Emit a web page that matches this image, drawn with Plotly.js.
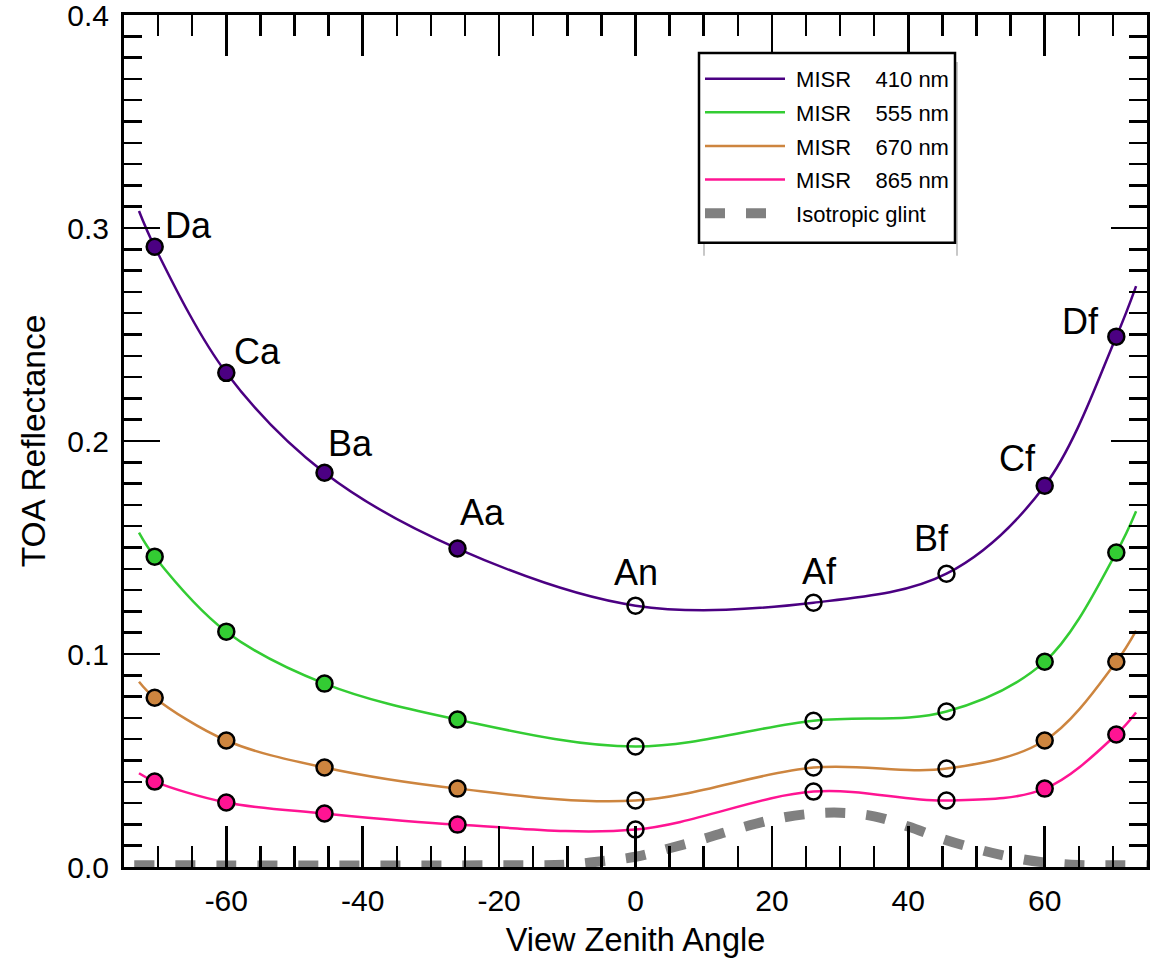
<!DOCTYPE html>
<html>
<head>
<meta charset="utf-8">
<script src="https://cdn.plot.ly/plotly-3.0.1.min.js"></script>
<style>
  html, body { margin: 0; padding: 0; background: #fff; }
  #chart { width: 1160px; height: 958px; }
</style>
</head>
<body>
<div id="chart"></div>
<script>
// ---- data ----
const cameras = ['Da', 'Ca', 'Ba', 'Aa', 'An', 'Af', 'Bf', 'Cf', 'Df'];
const viewAngles = [-70.5, -60, -45.6, -26.1, 0, 26.1, 45.6, 60, 70.5];
const filledMarker = [true, true, true, true, false, false, false, true, true];

const refl410 = [0.2912, 0.2320, 0.1851, 0.1495, 0.1227, 0.1241, 0.1377, 0.1790, 0.2490];
const refl555 = [0.1457, 0.1105, 0.0861, 0.0692, 0.0566, 0.0687, 0.0730, 0.0964, 0.1476];
const refl670 = [0.0795, 0.0594, 0.0467, 0.0368, 0.0312, 0.0467, 0.0462, 0.0594, 0.0964];
const refl865 = [0.0401, 0.0303, 0.0251, 0.0199, 0.0176, 0.0354, 0.0312, 0.0368, 0.0622];

// fitted-curve end points
const curveStartAngle = -72.8;
const curveEndAngle = 73.4;
const curveStart = { b410: 0.308, b555: 0.157, b670: 0.087, b865: 0.044 };
const curveEnd   = { b410: 0.2727, b555: 0.167, b670: 0.111, b865: 0.0725 };

const glintAngle = [-73.5, -20, -10, -5, 0, 5, 10, 15, 20, 25, 30, 35, 40, 45, 50, 55, 60, 65, 70, 75];
const glintRefl  = [0.0008, 0.0008, 0.0011, 0.0027, 0.0048, 0.0088, 0.0132, 0.0180, 0.0222, 0.0248, 0.0255, 0.0238, 0.0190, 0.0132, 0.0085, 0.0047, 0.0021, 0.0009, 0.0008, 0.0008];

const bandNames = ['MISR\u00a0\u00a0\u00a0\u00a0410 nm', 'MISR\u00a0\u00a0\u00a0\u00a0555 nm', 'MISR\u00a0\u00a0\u00a0\u00a0670 nm', 'MISR\u00a0\u00a0\u00a0\u00a0865 nm'];
const glintName = 'Isotropic glint';

const xTickVals = [-60, -40, -20, 0, 20, 40, 60];
const xTickText = ['-60', '-40', '-20', '0', '20', '40', '60'];
const yTickVals = [0, 0.1, 0.2, 0.3, 0.4];
const yTickText = ['0.0', '0.1', '0.2', '0.3', '0.4'];

// ---- styling ----
const FONT = 'Liberation Sans, Arial, Helvetica, sans-serif';
const bands = [
  { key: 'b410', y: refl410, color: '#4B0082', name: bandNames[0], xa: 'x3', ya: 'y3' },
  { key: 'b555', y: refl555, color: '#33CC33', name: bandNames[1], xa: 'x',  ya: 'y'  },
  { key: 'b670', y: refl670, color: '#CD853F', name: bandNames[2], xa: 'x',  ya: 'y'  },
  { key: 'b865', y: refl865, color: '#FF1493', name: bandNames[3], xa: 'x',  ya: 'y'  }
];

const traces = [];
bands.forEach((b, i) => {
  traces.push({
    x: [curveStartAngle].concat(viewAngles, [curveEndAngle]),
    y: [curveStart[b.key]].concat(b.y, [curveEnd[b.key]]),
    xaxis: b.xa, yaxis: b.ya,
    type: 'scatter', mode: 'lines', name: '\u00a0' + b.name, legendgroup: 'g' + i,
    line: { color: b.color, width: 2.5, shape: 'spline', smoothing: 1 }
  });
});
// glint on the overlay subplot (same ranges)
traces.push({
  x: glintAngle, y: glintRefl, type: 'scatter', mode: 'lines',
  xaxis: 'x2', yaxis: 'y2',
  name: '\u00a0' + glintName, legendgroup: 'g4',
  line: { color: '#808080', width: 10, dash: '20px,21px', shape: 'spline', smoothing: 1 }
});
bands.forEach((b) => {
  traces.push({
    x: viewAngles, y: b.y, type: 'scatter', mode: 'markers', showlegend: false,
    xaxis: b.xa, yaxis: b.ya,
    marker: {
      size: 16, symbol: 'circle',
      color: filledMarker.map(f => f ? b.color : 'rgba(0,0,0,0)'),
      line: { color: '#000', width: 2.5 }
    },
    cliponaxis: false
  });
});

// camera labels on the 410 nm curve
const labelOffsets = [
  { xa: 'left',   xs: 8,   ys: 21 },
  { xa: 'left',   xs: 6,   ys: 21 },
  { xa: 'left',   xs: 1,   ys: 29 },
  { xa: 'left',   xs: 0,   ys: 36 },
  { xa: 'center', xs: 0,   ys: 33 },
  { xa: 'center', xs: 6,   ys: 31 },
  { xa: 'center', xs: -15, ys: 35 },
  { xa: 'center', xs: -27, ys: 27 },
  { xa: 'center', xs: -36, ys: 15 }
];
const annotations = cameras.map((c, i) => ({
  x: viewAngles[i], y: refl410[i], xref: 'x', yref: 'y',
  text: c, showarrow: false,
  xanchor: labelOffsets[i].xa, yanchor: 'middle',
  xshift: labelOffsets[i].xs, yshift: labelOffsets[i].ys,
  font: { family: FONT, size: 36, color: '#000' }
}));

// legend box + shadow lines (pixel positions converted to paper coords)
const L = 124, T = 15, PW = 1023, PH = 852.5;
const px = v => (v - L) / PW;
const py = v => (T + PH - v) / PH;
const shapes = [
  { type: 'line', xref: 'paper', yref: 'paper', x0: px(957), x1: px(957), y0: py(62), y1: py(256),
    line: { color: '#c8c8c8', width: 2 }, layer: 'above' },
  { type: 'line', xref: 'paper', yref: 'paper', x0: px(704), x1: px(704), y0: py(243), y1: py(256),
    line: { color: '#c8c8c8', width: 2 }, layer: 'above' },
  { type: 'rect', xref: 'paper', yref: 'paper', x0: px(699), x1: px(955), y0: py(243), y1: py(53),
    fillcolor: '#fff', line: { color: '#000', width: 2.5 }, layer: 'above' }
];

// main axes: frame, labels, titles
const mainX = {
  range: [-75, 75], showgrid: false, zeroline: false,
  showline: true, linecolor: '#000', linewidth: 3, mirror: true,
  ticks: '', tickmode: 'array', tickvals: xTickVals, ticktext: xTickText,
  ticklabelstandoff: 5, ticklabeloverflow: 'allow',
  tickfont: { family: FONT, size: 30, color: '#000' },
  title: { text: 'View Zenith Angle', font: { family: FONT, size: 32.5, color: '#000' }, standoff: 14 }
};
const mainY = {
  range: [0, 0.4], showgrid: false, zeroline: false,
  showline: true, linecolor: '#000', linewidth: 3, mirror: true,
  ticks: '', tickmode: 'array', tickvals: yTickVals, ticktext: yTickText,
  ticklabelstandoff: 6, ticklabeloverflow: 'allow',
  tickfont: { family: FONT, size: 30, color: '#000' },
  title: { text: 'TOA Reflectance', font: { family: FONT, size: 33.5, color: '#000' }, standoff: 12 }
};
// minor ticks (overlay axes)
const minorX = {
  overlaying: 'x', anchor: 'y2', side: 'bottom',
  range: [-75, 75], showgrid: false, zeroline: false, showline: false,
  mirror: 'allticks', ticks: 'inside', ticklen: 21, tickwidth: 2.5, tickcolor: '#000',
  tickmode: 'linear', tick0: 0, dtick: 5, showticklabels: false
};
const minorY = {
  overlaying: 'y', anchor: 'x2', side: 'left',
  range: [0, 0.4], showgrid: false, zeroline: false, showline: false,
  mirror: 'allticks', ticks: 'inside', ticklen: 18, tickwidth: 2.5, tickcolor: '#000',
  tickmode: 'linear', tick0: 0, dtick: 0.01, showticklabels: false
};
// major ticks (overlay axes)
const majorX = {
  overlaying: 'x', anchor: 'y3', side: 'bottom',
  range: [-75, 75], showgrid: false, zeroline: false, showline: false,
  mirror: 'allticks', ticks: 'inside', ticklen: 41, tickwidth: 2.5, tickcolor: '#000',
  tickmode: 'linear', tick0: 0, dtick: 20, showticklabels: false
};
const majorY = {
  overlaying: 'y', anchor: 'x3', side: 'left',
  range: [0, 0.4], showgrid: false, zeroline: false, showline: false,
  mirror: 'allticks', ticks: 'inside', ticklen: 36, tickwidth: 2.5, tickcolor: '#000',
  tickmode: 'linear', tick0: 0, dtick: 0.1, showticklabels: false
};

const layout = {
  width: 1160, height: 958,
  margin: { l: L, r: 1160 - L - PW, t: T, b: 958 - T - PH },
  paper_bgcolor: '#fff', plot_bgcolor: 'rgba(0,0,0,0)',
  font: { family: FONT, color: '#000', size: 30 },
  showlegend: true,
  legend: {
    x: px(700), y: py(58), xanchor: 'left', yanchor: 'top',
    bgcolor: 'rgba(0,0,0,0)', borderwidth: 0,
    font: { family: FONT, size: 22, color: '#000' },
    itemwidth: 80, tracegroupgap: 2, traceorder: 'grouped'
  },
  xaxis: mainX, yaxis: mainY,
  xaxis2: minorX, yaxis2: minorY,
  xaxis3: majorX, yaxis3: majorY,
  annotations: annotations,
  shapes: shapes
};

Plotly.newPlot('chart', traces, layout, { displayModeBar: false, staticPlot: true });
</script>
</body>
</html>
